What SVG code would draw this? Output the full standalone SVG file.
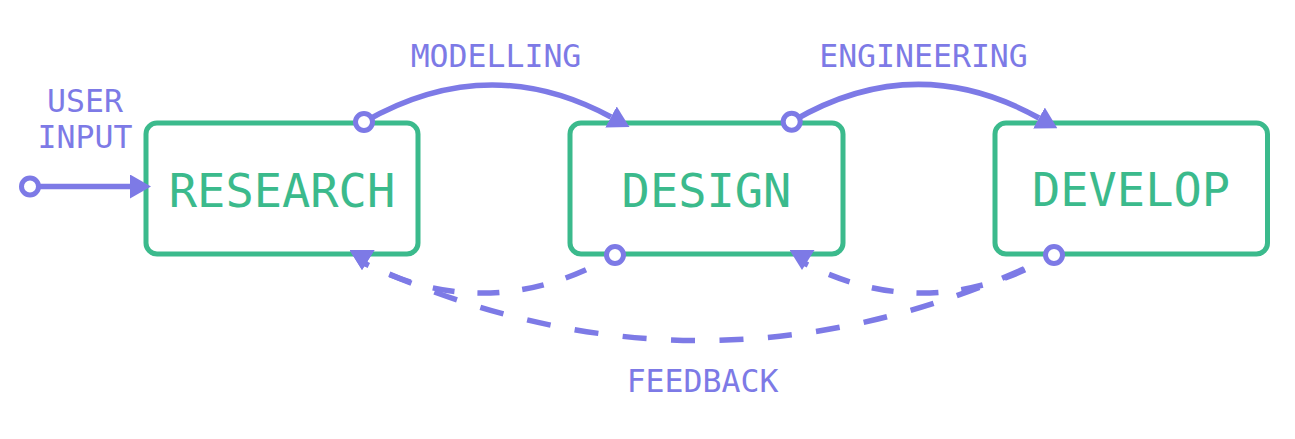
<svg xmlns="http://www.w3.org/2000/svg" width="1295" height="439" viewBox="0 0 1295 439">
  <style>
    .box { fill: #ffffff; stroke: #3bba8c; stroke-width: 5; }
    .ntext { font-family: "DejaVu Sans Mono", "Liberation Mono", monospace; font-size: 47px; fill: #3bba8c; text-anchor: middle; }
    .ltext { font-family: "DejaVu Sans Mono", "Liberation Mono", monospace; font-size: 31.5px; fill: #7d7ae6; text-anchor: middle; }
    .solid { fill: none; stroke: #7d7ae6; stroke-width: 5.5; }
    .dash { fill: none; stroke: #7d7ae6; stroke-width: 5.5; }
    .short { stroke-dasharray: 22 23; stroke-dashoffset: 12.5; }
    .long { stroke-dasharray: 24 24.5; stroke-dashoffset: 15.7; }
    .port { fill: #ffffff; stroke: #7d7ae6; stroke-width: 5; }
  </style>
  <defs>
    <marker id="arrow" markerUnits="userSpaceOnUse" viewBox="0 0 21 24" refX="0" refY="12" markerWidth="21" markerHeight="24" orient="auto">
      <path d="M0,0 L21,12 L0,24 Z" fill="#7d7ae6"/>
    </marker>
    <marker id="fbarrow" markerUnits="userSpaceOnUse" viewBox="0 0 20 25" refX="12" refY="12.5" markerWidth="20" markerHeight="25" orient="90">
      <path d="M0,0 L20,12.5 L0,25 Z" fill="#7d7ae6"/>
    </marker>
  </defs>
  <rect width="1295" height="439" fill="#ffffff"/>

  <g id="research">
    <rect class="box" x="146" y="123" width="272" height="131" rx="11"/>
    <text class="ntext" x="282" y="206.5">RESEARCH</text>
  </g>
  <g id="design">
    <rect class="box" x="570" y="123" width="273" height="131" rx="11"/>
    <text class="ntext" x="706.5" y="206.5">DESIGN</text>
  </g>
  <g id="develop">
    <rect class="box" x="995" y="123" width="272.5" height="131" rx="11"/>
    <text class="ntext" x="1131" y="206">DEVELOP</text>
  </g>

  <g id="connectors">
    <path class="solid" d="M30,186.5 L130,186.5" marker-end="url(#arrow)"/>
    <path class="solid" d="M364,122 Q488,50.5 611,117" marker-end="url(#arrow)"/>
    <path class="solid" d="M791.7,121.7 Q915,49 1039,118" marker-end="url(#arrow)"/>
    <path class="dash short" d="M615,255 Q488,327.5 362,262" marker-end="url(#fbarrow)"/>
    <path class="dash short" d="M1054,255 Q928,327.5 802,262" marker-end="url(#fbarrow)"/>
    <path class="dash long" d="M1054,255 Q708,422.5 362,262" marker-end="url(#fbarrow)"/>
    <circle class="port" cx="30" cy="186.5" r="8.5"/>
    <circle class="port" cx="364" cy="122" r="8.5"/>
    <circle class="port" cx="791.7" cy="121.7" r="8.5"/>
    <circle class="port" cx="615" cy="255" r="8.5"/>
    <circle class="port" cx="1054" cy="255" r="8.5"/>
    <text class="ltext" x="85" y="111.5">USER</text>
    <text class="ltext" x="85" y="148">INPUT</text>
    <text class="ltext" x="496" y="67">MODELLING</text>
    <text class="ltext" x="923.5" y="66.7">ENGINEERING</text>
    <text class="ltext" x="702.5" y="392.3">FEEDBACK</text>
  </g>
</svg>
